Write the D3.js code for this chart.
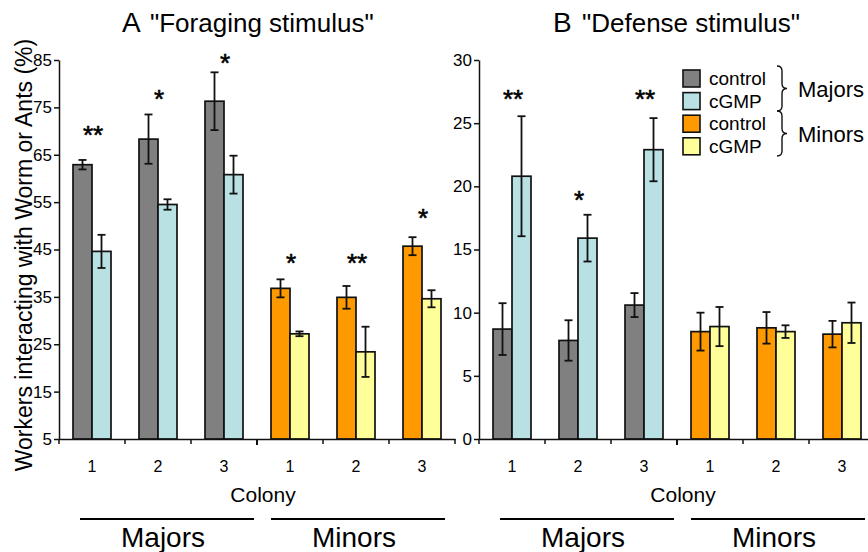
<!DOCTYPE html>
<html>
<head>
<meta charset="utf-8">
<script src="https://cdn.jsdelivr.net/npm/d3@7"></script>
<style>
  body { margin: 0; background: #fff; }
  text { font-family: "Liberation Sans", Arial, sans-serif; fill: #000; }
</style>
</head>
<body>
<script>
// colonies along the x axis (3 majors colonies, 3 minors colonies)
const colonies = ["1", "2", "3", "1", "2", "3"];
const castes = ["Majors", "Minors"];
const treatments = ["control", "cGMP"];

// A: foraging stimulus (%)
const foragingControl = [62.9, 68.3, 76.3, 36.8, 34.9, 45.7];
const foragingControlErr = [1.0, 5.2, 6.1, 1.9, 2.4, 1.9];
const foragingCgmp = [44.6, 54.5, 60.8, 27.2, 23.4, 34.6];
const foragingCgmpErr = [3.5, 1.1, 4.0, 0.5, 5.3, 1.8];
const foragingStars = ["**", "*", "*", "*", "**", "*"];
const foragingStarLevel = [70.4, 78, 85.6, 43.4, 43.4, 52.9];

// B: defense stimulus (%)
const defenseControl = [8.7, 7.8, 10.6, 8.5, 8.8, 8.3];
const defenseControlErr = [2.05, 1.6, 0.95, 1.5, 1.25, 1.05];
const defenseCgmp = [20.8, 15.9, 22.9, 8.9, 8.5, 9.2];
const defenseCgmpErr = [4.75, 1.85, 2.5, 1.55, 0.5, 1.6];
const defenseStars = ["**", "*", "**", "", "", ""];
const defenseStarLevel = [27.4, 19.4, 27.4, 0, 0, 0];

const ticksA = [5, 15, 25, 35, 45, 55, 65, 75, 85];
const ticksB = [0, 5, 10, 15, 20, 25, 30];

// colours: [caste][treatment]
const colors = [["#808080", "#b9e0e3"], ["#ff9900", "#ffff99"]];

const W = 868, H = 552;
const svg = d3.select("body").append("svg").attr("width", W).attr("height", H);

const baseY = 439, topY = 60;
const groupW = 66;
const font = "Liberation Sans, Arial, sans-serif";

const panels = [
  {
    left: 59, domain: [5, 85], ticks: ticksA,
    control: foragingControl, controlErr: foragingControlErr,
    cgmp: foragingCgmp, cgmpErr: foragingCgmpErr,
    stars: foragingStars, starLevel: foragingStarLevel,
    letter: "A", title: "\"Foraging stimulus\"", titleX: 122, titleGap: 28
  },
  {
    left: 479, domain: [0, 30], ticks: ticksB,
    control: defenseControl, controlErr: defenseControlErr,
    cgmp: defenseCgmp, cgmpErr: defenseCgmpErr,
    stars: defenseStars, starLevel: defenseStarLevel,
    letter: "B", title: "\"Defense stimulus\"", titleX: 553, titleGap: 29
  }
];

let drawPanel = (p) => {
  const g = svg.append("g");
  const x = d3.scaleBand().domain(d3.range(colonies.length))
    .range([p.left, p.left + groupW * colonies.length]).padding(0);
  const xi = d3.scaleBand().domain(treatments).range([14, 52]).padding(0);
  const y = d3.scaleLinear().domain(p.domain).range([baseY, topY]);

  // bars
  colonies.forEach((c, i) => {
    const caste = i < 3 ? 0 : 1;
    const vals = [p.control[i], p.cgmp[i]];
    const errs = [p.controlErr[i], p.cgmpErr[i]];
    treatments.forEach((t, j) => {
      const bx = x(i) + xi(t);
      g.append("rect")
        .attr("x", bx).attr("y", y(vals[j]))
        .attr("width", xi.bandwidth()).attr("height", y(p.domain[0]) - y(vals[j]))
        .attr("fill", colors[caste][j])
        .attr("stroke", "#111").attr("stroke-width", 1.7);
      const cx = bx + xi.bandwidth() / 2;
      const e = g.append("g").attr("stroke", "#111").attr("stroke-width", 1.8);
      e.append("line").attr("x1", cx).attr("x2", cx)
        .attr("y1", y(vals[j] + errs[j])).attr("y2", y(vals[j] - errs[j]));
      [vals[j] + errs[j], vals[j] - errs[j]].forEach(v => {
        e.append("line").attr("x1", cx - 4).attr("x2", cx + 4)
          .attr("y1", y(v)).attr("y2", y(v));
      });
    });
    if (p.stars[i]) {
      g.append("text")
        .attr("x", x(i) + groupW / 2 + 1).attr("y", y(p.starLevel[i]) + 15)
        .attr("text-anchor", "middle").style("font-size", "26px")
        .style("stroke", "#000").style("stroke-width", 0.6)
        .text(p.stars[i]);
    }
  });

  // y axis
  const ya = g.append("g").attr("transform", `translate(${p.left},0)`)
    .call(d3.axisLeft(y).tickValues(p.ticks).tickSize(5).tickSizeOuter(0).tickPadding(2));
  ya.selectAll("path, line").attr("stroke", "#111").attr("stroke-width", 1.5);
  ya.selectAll("text").style("font-size", "17px").style("font-family", font);

  // x axis: labels under groups, ticks on group boundaries
  const xa = g.append("g").attr("transform", `translate(0,${baseY})`)
    .call(d3.axisBottom(x).tickFormat(i => colonies[i]).tickSize(0).tickPadding(22).tickSizeOuter(0));
  xa.select("path").attr("stroke", "#111").attr("stroke-width", 1.5);
  xa.selectAll("text").style("font-size", "16px").style("font-family", font);
  d3.range(colonies.length + 1).forEach(k => {
    const tx = p.left + k * groupW;
    g.append("line").attr("x1", tx).attr("x2", tx)
      .attr("y1", baseY).attr("y2", baseY + (k === 3 ? 6 : 5))
      .attr("stroke", "#111").attr("stroke-width", k === 3 ? 2 : 1.5);
  });

  g.append("text").attr("x", x(2) + groupW + 6).attr("y", 502)
    .attr("text-anchor", "middle").style("font-size", "21px").text("Colony");

  // caste lines + labels
  castes.forEach((cs, k) => {
    const x0 = x(k * 3) + (k === 0 ? 21 : 14);
    const x1 = x(k * 3 + 2) + groupW - (k === 0 ? 3 : 10);
    g.append("line").attr("x1", x0).attr("x2", x1).attr("y1", 519).attr("y2", 519)
      .attr("stroke", "#000").attr("stroke-width", 2);
    g.append("text").attr("x", (x0 + x1) / 2 - 4).attr("y", 547)
      .attr("text-anchor", "middle").style("font-size", "28px").text(cs);
  });

  // title
  const t = g.append("text").attr("x", p.titleX).attr("y", 32);
  t.append("tspan").style("font-size", "28px").text(p.letter);
  t.append("tspan").attr("x", p.titleX + p.titleGap).style("font-size", "26px").text(p.title);
};

panels.forEach(drawPanel);

// y label
svg.append("text")
  .attr("transform", "translate(32,255) rotate(-90)")
  .attr("text-anchor", "middle").style("font-size", "23px")
  .text("Workers interacting with Worm or Ants (%)");

// legend
const legend = svg.append("g");
const legendItems = [];
castes.forEach((cs, a) => treatments.forEach((t, b) => legendItems.push({ t: t, c: colors[a][b] })));
legendItems.forEach((d, i) => {
  const ly = 70 + i * 22.6;
  legend.append("rect").attr("x", 683).attr("y", ly).attr("width", 17).attr("height", 17)
    .attr("fill", d.c).attr("stroke", "#111").attr("stroke-width", 1.6);
  legend.append("text").attr("x", 709).attr("y", ly + 15).style("font-size", "19px").text(d.t);
});

let brace = (x, y0, y1, w) => {
  const ym = (y0 + y1) / 2, m = x + w / 2, r = 5;
  return `M${x},${y0} Q${m},${y0} ${m},${y0 + r} L${m},${ym - r} Q${m},${ym} ${x + w},${ym}` +
    ` Q${m},${ym} ${m},${ym + r} L${m},${y1 - r} Q${m},${y1} ${x},${y1}`;
};
castes.forEach((cs, k) => {
  const y0 = 66 + k * 45, y1 = 111 + k * 45;
  legend.append("path").attr("d", brace(777, y0, y1, 10))
    .attr("fill", "none").attr("stroke", "#111").attr("stroke-width", 1.4);
  legend.append("text").attr("x", 798).attr("y", (y0 + y1) / 2 + 8)
    .style("font-size", "22px").text(cs);
});
</script>
</body>
</html>
